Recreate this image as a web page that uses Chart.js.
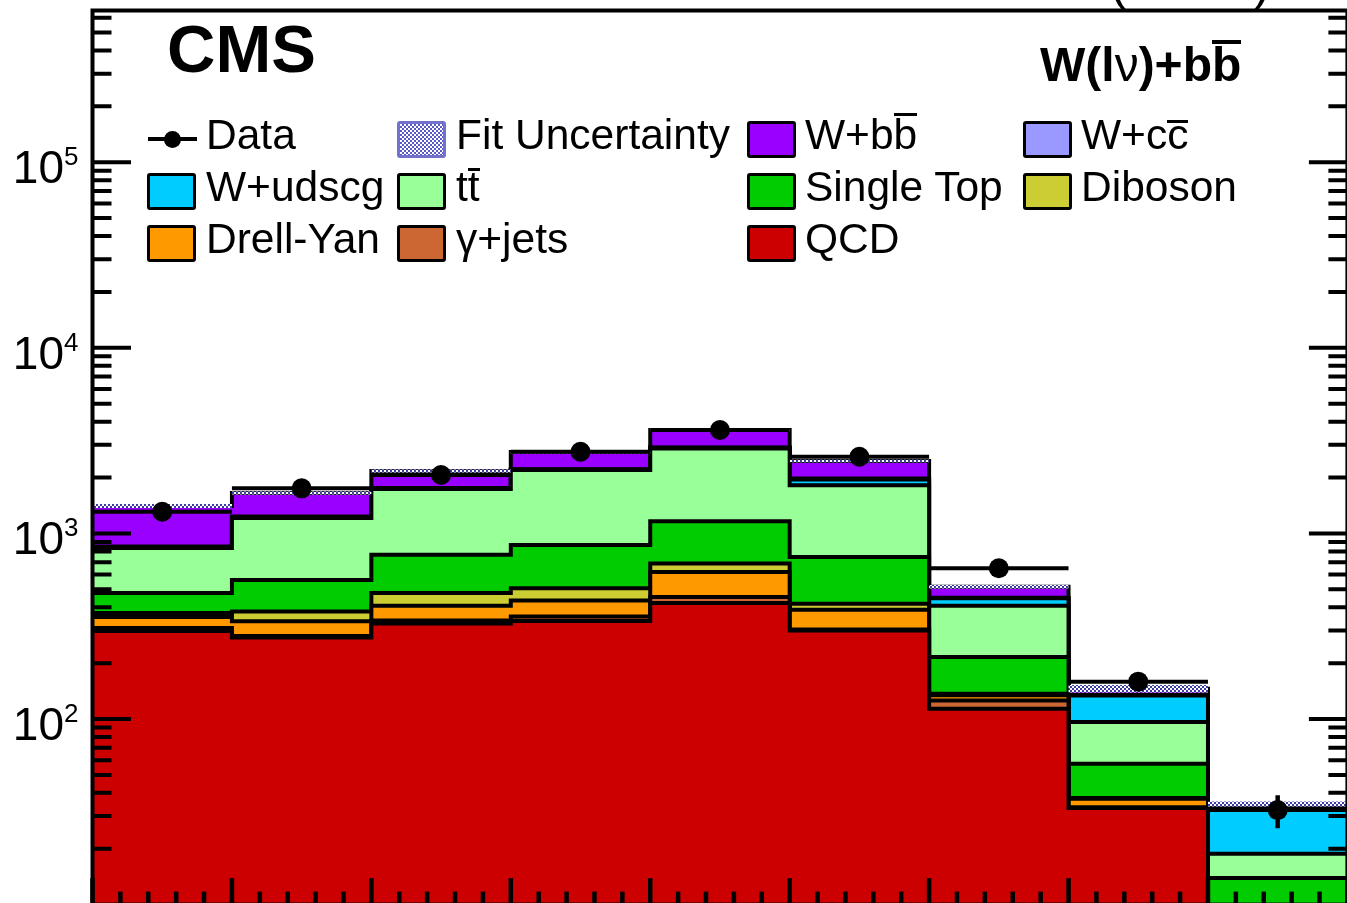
<!DOCTYPE html>
<html><head><meta charset="utf-8">
<script src="https://cdn.jsdelivr.net/npm/chart.js@4/dist/chart.umd.min.js"></script>
<style>
html,body{margin:0;padding:0;background:#fff;}
body{width:1347px;height:903px;overflow:hidden;position:relative;font-family:"Liberation Sans",Arial,Helvetica,sans-serif;}
#wrap{position:absolute;left:0;top:0;width:1360px;height:920px;}
.t{position:absolute;white-space:nowrap;line-height:1;color:#000;}
.leg{font-size:42.5px;}
.box{position:absolute;box-sizing:border-box;width:49px;height:37px;border:3px solid #000;border-radius:3px;}
.bar{position:relative;}
.bar::before{content:'';position:absolute;left:0;right:0;top:var(--bt);height:var(--bh,3px);background:#000;}
.nu{font-weight:normal;}
</style></head><body>
<div id="wrap"><canvas id="c" width="1360" height="920"></canvas></div>
<div id="overlay"></div>
<script>
// ---------------- data ----------------
const binEdges   = [0, 1, 2, 3, 4, 5, 6, 7, 8, 9];
const qcd        = [298, 275, 327, 337, 422, 300, 113.6, 33.2, 4.0];
const gammaJets  = [11, 5, 12.5, 20, 32, 3.5, 12.4, 0.3, 0.2];
const drellYan   = [45, 56, 68.5, 78, 165, 84.5, 8.2, 3.7, 0.5];
const diboson    = [18.5, 44, 69.5, 71, 69, 30, 2.5, 0.3, 0.3];
const singleTop  = [105, 181, 290.5, 360, 474, 328, 79.3, 19.9, 8.9];
const ttbar      = [356.5, 650, 967, 1330, 1705, 1070, 192, 38.9, 4.9];
const wUdscg     = [11, 15, 15, 14, 25, 136, 39, 37.5, 14.1];
const wCC        = [5, 7, 6, 8, 11, 24, 3, 1.2, 0.2];
const wBB        = [555, 418, 413, 528, 704, 479, 66, 10.6, 1.7];
const dataCounts = [1309, 1750, 2064, 2754, 3606, 2589, 649, 159, 32.3];
const dataErrors = [36, 42, 45, 52, 60, 51, 25, 13, 6.5];
const fitLow     = [1370, 1621, 2129, 2695, 3540, 2415, 505, 139, 33.8];
const fitHigh    = [1440, 1682, 2210, 2797, 3675, 2495, 527, 152.5, 35.9];
const yTickValues    = [100, 1000, 10000, 100000];
const yTickBase      = '10';
const yTickExponents = ['2', '3', '4', '5'];
const xMajorTicks = [0, 1, 2, 3, 4, 5, 6, 7, 8, 9];
const xMinorSteps = [0.2, 0.4, 0.6, 0.8];
const yMinorMultipliers = [2, 3, 4, 5, 6, 7, 8, 9];
const yDecades = [10, 100, 1000, 10000, 100000];

// stack order, bottom to top
const stackNames  = ['QCD', '\u03B3+jets', 'Drell-Yan', 'Diboson', 'Single Top', 'ttbar', 'W+udscg', 'W+ccbar', 'W+bbbar'];
const stackValues = [qcd, gammaJets, drellYan, diboson, singleTop, ttbar, wUdscg, wCC, wBB];

// ---------------- styles ----------------
const stackColors = ['#cc0000', '#cc6633', '#ff9900', '#cccc33', '#00cc00', '#99ff99', '#00ccff', '#9999ff', '#9900ff'];
const bandColor = '#3c3ca6';
const FONT = '"Liberation Sans", Arial, sans-serif';

function bandPattern() {
  const c = document.createElement('canvas'); c.width = 4; c.height = 4;
  const g = c.getContext('2d');
  g.fillStyle = '#ffffff'; g.fillRect(0, 0, 4, 4);
  g.fillStyle = bandColor; g.fillRect(0, 0, 2, 2); g.fillRect(2, 2, 2, 2);
  return g.createPattern(c, 'repeat');
}

function histPoints(vals) {
  const pts = [];
  vals.forEach((v, i) => { pts.push({x: binEdges[i], y: v}); pts.push({x: binEdges[i + 1], y: v}); });
  return pts;
}

const datasets = [];
let running = stackValues[0].map(() => 0);
stackValues.forEach((vals, k) => {
  running = running.map((r, i) => r + vals[i]);
  datasets.push({
    label: stackNames[k], data: histPoints(running.slice()),
    borderColor: '#000', borderWidth: 4, backgroundColor: stackColors[k],
    fill: 'start', pointRadius: 0, tension: 0, order: 20 + k
  });
});
const lowIdx = datasets.length;
datasets.push({ label: 'fitLow', data: histPoints(fitLow), borderColor: 'rgba(0,0,0,0)', borderWidth: 0,
  fill: false, pointRadius: 0, order: 12 });
datasets.push({ label: 'Fit Uncertainty', data: histPoints(fitHigh), borderColor: 'rgba(0,0,0,0)', borderWidth: 0,
  backgroundColor: bandPattern(), fill: {target: lowIdx}, pointRadius: 0, order: 11 });

const xBars = [], yBars = [], marks = [];
dataCounts.forEach((d, i) => {
  const xc = (binEdges[i] + binEdges[i + 1]) / 2;
  xBars.push({x: binEdges[i], y: d}, {x: binEdges[i + 1], y: d}, {x: binEdges[i + 1], y: null});
  yBars.push({x: xc, y: d - dataErrors[i]}, {x: xc, y: d + dataErrors[i]}, {x: xc, y: null});
  marks.push({x: xc, y: d});
});
datasets.push({ label: 'Data x-err', data: xBars, borderColor: '#000', borderWidth: 4, fill: false, pointRadius: 0, spanGaps: false, order: 3 });
datasets.push({ label: 'Data y-err', data: yBars, borderColor: '#000', borderWidth: 4.5, fill: false, pointRadius: 0, spanGaps: false, order: 2 });
datasets.push({ label: 'Data', data: marks, showLine: false, pointRadius: 10, pointBackgroundColor: '#000', pointBorderWidth: 0, order: 1 });

const framePlugin = {
  id: 'rootFrame',
  afterDatasetsDraw(chart) {
    const {ctx, chartArea: a, scales: {x, y}} = chart;
    ctx.save();
    ctx.strokeStyle = '#000';
    ctx.lineCap = 'butt';
    // y ticks (both sides, pointing inward)
    ctx.lineWidth = 4;
    yDecades.forEach(dec => {
      const pm = y.getPixelForValue(dec);
      if (pm > a.top && pm < a.bottom - 1) {
        ctx.beginPath();
        ctx.moveTo(a.left, pm); ctx.lineTo(a.left + 38.5, pm);
        ctx.moveTo(a.right, pm); ctx.lineTo(a.right - 38.5, pm);
        ctx.stroke();
      }
      yMinorMultipliers.forEach(m => {
        const p = y.getPixelForValue(dec * m);
        if (p > a.top + 2 && p < a.bottom - 1) {
          ctx.beginPath();
          ctx.moveTo(a.left, p); ctx.lineTo(a.left + 19, p);
          ctx.moveTo(a.right, p); ctx.lineTo(a.right - 19, p);
          ctx.stroke();
        }
      });
    });
    // x ticks (bottom, inward)
    ctx.lineWidth = 4.5;
    xMajorTicks.forEach((t, i) => {
      const px = x.getPixelForValue(t);
      ctx.beginPath(); ctx.moveTo(px, a.bottom); ctx.lineTo(px, a.bottom - 26.5); ctx.stroke();
      if (i < xMajorTicks.length - 1) {
        xMinorSteps.forEach(s => {
          const pm = x.getPixelForValue(t + s);
          ctx.beginPath(); ctx.moveTo(pm, a.bottom); ctx.lineTo(pm, a.bottom - 13); ctx.stroke();
        });
      }
    });
    // frame
    ctx.lineWidth = 4;
    ctx.strokeRect(a.left, a.top, a.right - a.left, a.bottom - a.top);
    // y tick labels: "10" with raised exponent (ROOT style)
    ctx.fillStyle = '#000';
    ctx.textBaseline = 'alphabetic';
    ctx.textAlign = 'right';
    const labelRight = y.left + y.width - 14;
    yTickValues.forEach((v, i) => {
      const p = y.getPixelForValue(v);
      ctx.font = '26px ' + FONT;
      const ew = ctx.measureText(yTickExponents[i]).width;
      ctx.fillText(yTickExponents[i], labelRight, p + 3);
      ctx.font = '46px ' + FONT;
      ctx.fillText(yTickBase, labelRight - ew, p + 21);
    });
    ctx.restore();
  }
};

new Chart(document.getElementById('c'), {
  type: 'line',
  data: { datasets },
  options: {
    responsive: false, animation: false, events: [],
    layout: { padding: { left: 0, top: 10.5, right: 12.6, bottom: 15.4 } },
    plugins: { legend: { display: false }, tooltip: { enabled: false }, title: { display: false } },
    elements: { line: { tension: 0, borderJoinStyle: 'miter' }, point: { radius: 0 } },
    scales: {
      x: { type: 'linear', min: 0, max: 9, display: false },
      y: {
        type: 'logarithmic', min: 10, max: 657000,
        grid: { display: false }, border: { display: false },
        afterBuildTicks: s => { s.ticks = yTickValues.map(v => ({ value: v })); },
        afterFit: s => { s.width = 92.5; s.paddingTop = 0; s.paddingBottom = 0; },
        ticks: { display: false }
      }
    }
  },
  plugins: [framePlugin]
});

// ---------------- legend & labels (HTML text) ----------------
const legendLabels = ['Data', 'Fit Uncertainty',
  'W+b<span class="bar" style="--bt:2.5px">b</span>', 'W+c<span class="bar" style="--bt:9.5px">c</span>',
  'W+udscg', 't<span class="bar" style="--bt:5.3px">t</span>', 'Single Top', 'Diboson',
  'Drell-Yan', '\u03B3+jets', 'QCD'];
const legendKinds  = ['data', 'band', 'W+bbbar', 'W+ccbar', 'W+udscg', 'ttbar', 'Single Top', 'Diboson', 'Drell-Yan', '\u03B3+jets', 'QCD'];
const colBox  = [147, 397, 747, 1023];
const colText = [206, 456, 805, 1081];
const rowMid  = [139, 191, 243];
const rowBase = [149.5, 201.5, 253.5];
const ov = document.getElementById('overlay');
function add(html) { ov.insertAdjacentHTML('beforeend', html); }
legendLabels.forEach((lab, i) => {
  const c = i % 4, r = Math.floor(i / 4);
  const kind = legendKinds[i];
  if (kind === 'data') {
    add(`<div style="position:absolute;left:${colBox[c]+1}px;top:${rowMid[r]-2}px;width:49px;height:4px;background:#000"></div>`);
    add(`<div style="position:absolute;left:${colBox[c]+17}px;top:${rowMid[r]-8.5}px;width:17px;height:17px;border-radius:50%;background:#000"></div>`);
  } else if (kind === 'band') {
    add(`<div class="box" style="left:${colBox[c]}px;top:${rowMid[r]-18.5}px;border-color:#7272cc;background:repeating-conic-gradient(#5a5ac4 0 25%, #ffffff 0 50%) 0 0/4px 4px"></div>`);
  } else {
    const col = stackColors[stackNames.indexOf(kind)];
    add(`<div class="box" style="left:${colBox[c]}px;top:${rowMid[r]-18.5}px;background:${col}"></div>`);
  }
  add(`<div class="t leg" style="left:${colText[c]}px;top:${rowBase[r]-0.8465*42.5}px">${lab}</div>`);
});
add(`<div class="t" style="left:167px;top:${71.7-0.8465*67}px;font-size:67px;font-weight:bold">CMS</div>`);
add(`<div class="t" style="left:1040px;top:${81.5-0.8465*48}px;font-size:48px;font-weight:bold">W(l<span class="nu">\u03BD</span>)+b<span class="bar" style="--bt:2.4px;--bh:3.5px">b</span></div>`);
add(`<div class="t" style="left:1110px;top:${0-0.8465*50}px;font-size:50px">(8 TeV)</div>`);
</script>
</body></html>
